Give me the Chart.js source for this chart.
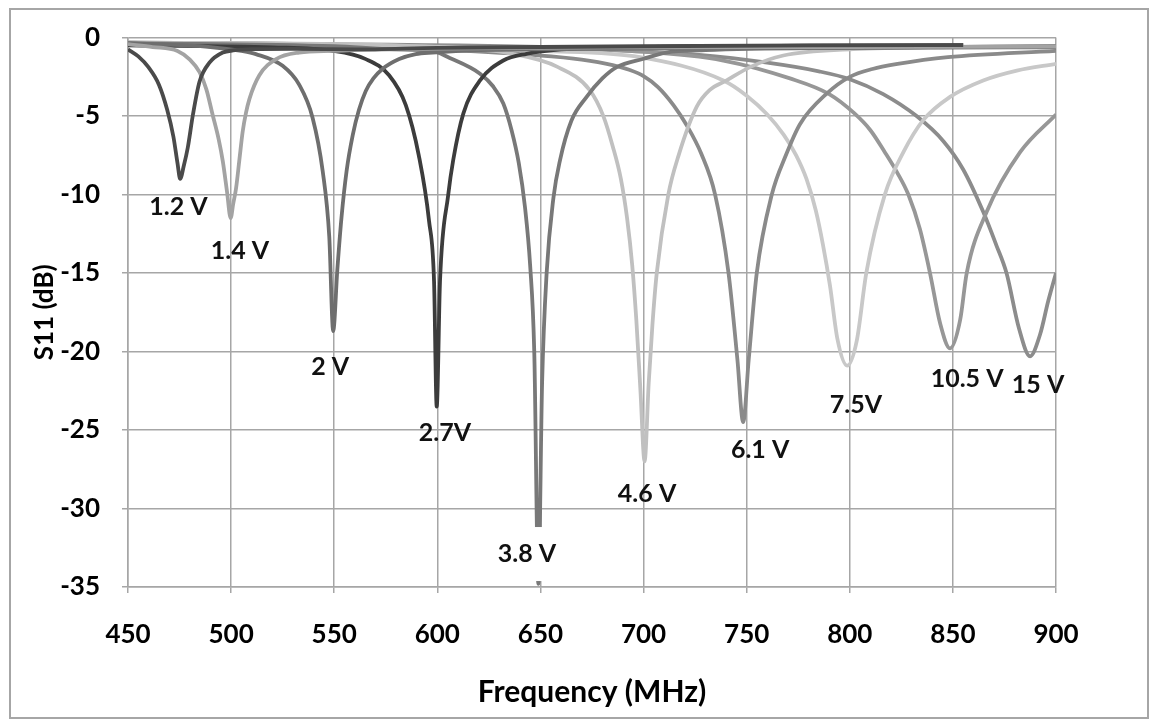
<!DOCTYPE html>
<html>
<head>
<meta charset="utf-8">
<script src="https://cdn.jsdelivr.net/npm/chart.js@4.4.0/dist/chart.umd.min.js"></script>
<style>
  html, body { margin: 0; padding: 0; background: #fff; }
  #wrap { position: relative; width: 1151px; height: 721px; overflow: hidden; }
  #frame { position: absolute; left: 9px; top: 8px; width: 1136px; height: 707px; border: 2px solid #a6a6a6; pointer-events: none; }
  canvas { position: absolute; left: 0; top: 0; }
</style>
</head>
<body>
<div id="wrap"><canvas id="myChart" width="1151" height="721"></canvas><div id="frame"></div></div>
<script>
// frequency (MHz) / S11 (dB), one pair per bias voltage
const f12 = [450, 455, 460, 465, 469, 472, 474, 475.3, 477, 479, 481.5, 484.7, 489.5, 496, 501, 510, 530, 560, 600, 650, 700, 780, 855];
const s12 = [-0.75, -1.2, -1.9, -3.0, -4.6, -6.3, -8.0, -9.0, -8.2, -7.0, -4.9, -2.8, -1.6, -0.95, -0.82, -0.74, -0.72, -0.75, -0.65, -0.6, -0.55, -0.5, -0.48];

const f14 = [450, 462, 474, 480, 484.7, 488, 491, 494, 496, 498, 499.8, 501, 502.4, 504, 505.6, 507.2, 508.9, 513.7, 521.8, 533, 549, 600, 700, 800, 900];
const s14 = [-0.42, -0.6, -0.85, -1.4, -2.2, -3.3, -4.9, -6.5, -7.9, -9.8, -11.5, -10.6, -9.6, -7.8, -6.0, -4.8, -3.9, -2.4, -1.37, -0.95, -0.84, -0.7, -0.62, -0.6, -0.58];

const f20 = [450, 490, 505, 512, 525, 533, 539.5, 544.4, 547.6, 549.5, 551.5, 553.5, 556, 559, 562, 565.3, 569, 573.4, 581.5, 589.5, 597.6, 620, 700, 800, 900];
const s20 = [-0.35, -0.6, -0.85, -1.05, -1.8, -3.0, -5.1, -8.5, -12.7, -18.7, -14.8, -11.5, -8.5, -6.2, -4.6, -3.4, -2.6, -2.0, -1.37, -1.05, -0.95, -0.8, -0.7, -0.65, -0.62];

const f27 = [450, 520, 549, 565.3, 576.6, 584.7, 591, 596, 598.4, 599.7, 601.3, 605.3, 607.7, 612.6, 620.7, 632, 643.3, 660, 700, 780, 855];
const s27 = [-0.5, -0.62, -0.84, -1.37, -2.4, -4.3, -7.5, -11.7, -15.5, -23.5, -15.5, -10, -7.8, -4.84, -2.73, -1.46, -1.03, -0.75, -0.6, -0.52, -0.48];

const f38 = [450, 550, 580, 596.5, 606, 620.7, 627, 632, 636, 639.5, 642.5, 645, 647, 649, 650.8, 653, 656.3, 659.5, 665, 672.4, 680, 687, 700, 711, 730, 800, 900];
const s38 = [-0.35, -0.55, -0.75, -0.82, -1.3, -2.3, -3.1, -4.2, -5.9, -8.0, -10.8, -14.5, -20, -34.8, -22, -15, -10.2, -7.8, -5.3, -3.78, -2.6, -1.88, -1.35, -0.95, -0.8, -0.65, -0.55];

const f46 = [450, 580, 620, 635, 658, 674, 680.5, 685, 689, 692, 694.5, 696.5, 698.5, 700.5, 702.5, 704.3, 706.4, 712, 717, 725.8, 732, 740.3, 751.6, 767.8, 801.6, 850, 900];
const s46 = [-0.3, -0.5, -0.75, -1.0, -1.85, -3.36, -5.0, -6.9, -9.0, -11.5, -14.5, -18, -22.5, -27, -22, -18.3, -15, -10, -7.5, -4.4, -3.35, -2.73, -1.88, -1.14, -0.74, -0.6, -0.55];

const f61 = [450, 550, 597, 645, 670, 685, 693, 700, 707, 714.5, 721, 728, 734.7, 741.2, 745.5, 748.3, 751, 754.9, 762.2, 769, 775.9, 788.8, 800, 811, 823.2, 847.6, 900];
const s61 = [-0.3, -0.45, -0.72, -1.1, -1.4, -1.75, -2.05, -2.45, -3.15, -4.3, -5.6, -7.4, -10, -15, -20.5, -24.5, -20.5, -15, -10, -7.5, -5.5, -3.57, -2.5, -2.0, -1.68, -1.25, -0.84];

const f75 = [450, 600, 650, 698.3, 738.7, 750, 760, 768, 774, 779, 783.5, 787, 790.4, 794, 798.7, 803.4, 808, 817, 826, 835.6, 848.6, 864.7, 881, 900];
const s75 = [-0.35, -0.6, -0.85, -1.25, -2.73, -3.7, -4.9, -6.2, -7.5, -9.0, -11, -13.2, -15.8, -19.2, -20.9, -19.3, -15, -10, -7.3, -5.26, -3.78, -2.73, -2.1, -1.67];

const f105 = [450, 600, 700, 738.7, 771, 790, 802, 810, 817, 823, 828.4, 834, 838.9, 843.8, 848.6, 853.5, 856.7, 866.4, 882.6, 900];
const s105 = [-0.35, -0.55, -0.9, -1.46, -2.6, -3.6, -4.8, -5.9, -7.3, -8.6, -10, -12.2, -15, -18.2, -19.8, -18, -15, -11.1, -7.3, -4.9];

const f150 = [450, 650, 700, 727, 760, 785, 800, 816.2, 832.4, 845.4, 855, 864.7, 871, 876, 882, 887.4, 892.3, 896.2, 900];
const s150 = [-0.35, -0.6, -0.9, -1.1, -1.6, -2.15, -2.65, -3.6, -5.0, -6.6, -8.4, -11.1, -13.2, -15, -18.5, -20.3, -18.9, -16.8, -15];

const xTicks = [450, 500, 550, 600, 650, 700, 750, 800, 850, 900];
const yTicks = [0, -5, -10, -15, -20, -25, -30, -35];

// data labels placed in data units
const labelText = ["1.2 V", "1.4 V", "2 V", "2.7V", "3.8 V", "4.6 V", "6.1 V", "7.5V", "10.5 V", "15 V"];
const labelFreq = [474.5, 504.3, 548, 603.7, 643.5, 701.7, 756.5, 803, 856.9, 891.3];
const labelDb = [-10.8, -13.6, -21, -25.2, -32.9, -29.1, -26.25, -23.4, -21.75, -22.1];

const series = [
  [f12, s12, "#4a4a4a"],
  [f14, s14, "#a3a3a3"],
  [f20, s20, "#6e6e6e"],
  [f27, s27, "#3c3c3c"],
  [f38, s38, "#787878"],
  [f46, s46, "#c0c0c0"],
  [f61, s61, "#8a8a8a"],
  [f75, s75, "#c8c8c8"],
  [f105, s105, "#979797"],
  [f150, s150, "#8c8c8c"]
];

const fontFam = "Lato, 'Open Sans', sans-serif";
const gridCol = "#a6a6a6";

const labelPlugin = {
  id: "voltLabels",
  afterDatasetsDraw(chart) {
    const ctx = chart.ctx;
    const xs = chart.scales.x, ys = chart.scales.y;
    ctx.save();
    ctx.font = "bold 25px " + fontFam;
    ctx.textAlign = "center";
    ctx.textBaseline = "middle";
    labelText.forEach((t, i) => {
      const px = xs.getPixelForValue(labelFreq[i]);
      const py = ys.getPixelForValue(labelDb[i]);
      if (t === "3.8 V") {
        // this label sits on a white box that hides part of the dip
        const w = ctx.measureText(t).width;
        ctx.fillStyle = "#ffffff";
        ctx.fillRect(px - w / 2 - 4, py - 27, w + 8, 54);
      }
      ctx.fillStyle = "#111111";
      ctx.fillText(t, px, py);
    });
    ctx.restore();
  }
};

let ctx = document.getElementById("myChart").getContext("2d");
let chart = new Chart(ctx, {
  type: "line",
  data: {
    datasets: series.map((s, i) => ({
      label: labelText[i],
      data: s[0].map((f, j) => ({ x: f, y: s[1][j] })),
      borderColor: s[2],
      borderWidth: 3.8,
      pointRadius: 0,
      fill: false,
      cubicInterpolationMode: "monotone"
    }))
  },
  options: {
    responsive: false,
    animation: false,
    layout: { padding: { top: 35, right: 95, left: 0, bottom: 0 } },
    plugins: { legend: { display: false }, tooltip: { enabled: false } },
    scales: {
      x: {
        type: "linear",
        min: 450,
        max: 900,
        afterBuildTicks: (scale) => { scale.ticks = xTicks.map(v => ({ value: v })); },
        afterFit: (scale) => { scale.height = 134; },
        ticks: { color: "#000", padding: 26, font: { family: fontFam, size: 26, weight: "bold" } },
        grid: { color: gridCol, lineWidth: 1.5, tickLength: 6, tickColor: gridCol },
        border: { color: gridCol, width: 1.5 },
        title: {
          display: true,
          text: "Frequency (MHz)",
          color: "#000",
          font: { family: fontFam, size: 30, weight: "bold" },
          padding: { top: 0, bottom: 11 }
        }
      },
      y: {
        type: "linear",
        min: -35,
        max: 0,
        afterBuildTicks: (scale) => { scale.ticks = yTicks.map(v => ({ value: v })); },
        afterFit: (scale) => { scale.width = 128; },
        ticks: { color: "#000", padding: 22, font: { family: fontFam, size: 26, weight: "bold" } },
        grid: { color: gridCol, lineWidth: 1.5, tickLength: 6, tickColor: gridCol },
        border: { color: gridCol, width: 1.5 },
        title: {
          display: true,
          text: "S11 (dB)",
          color: "#000",
          font: { family: fontFam, size: 26, weight: "bold" },
          padding: { top: 29, bottom: 0 }
        }
      }
    }
  },
  plugins: [labelPlugin]
});
</script>
</body>
</html>
